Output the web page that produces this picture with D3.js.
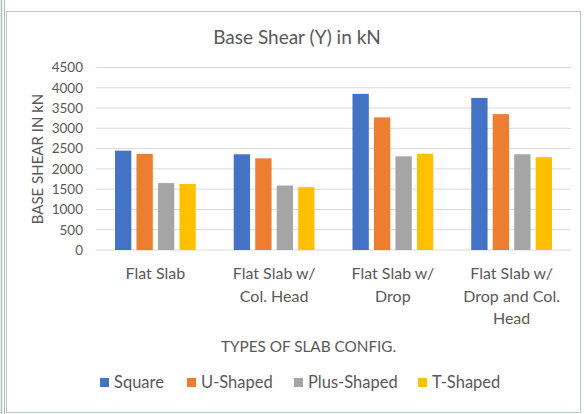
<!DOCTYPE html>
<html><head><meta charset="utf-8">
<script src="https://cdn.jsdelivr.net/npm/d3@7"></script>
<style>body{margin:0;background:#fff}svg{display:block}text{font-family:Lato,"Open Sans",sans-serif;fill:#595959}</style>
</head><body>
<svg id="c" width="584" height="414"></svg>
<script>
const categories = [["Flat Slab"],["Flat Slab w/","Col. Head"],["Flat Slab w/","Drop"],["Flat Slab w/","Drop and Col.","Head"]];
const seriesNames = ["Square","U-Shaped","Plus-Shaped","T-Shaped"];
const square = [2450, 2360, 3850, 3750];
const uShaped = [2370, 2260, 3270, 3350];
const plusShaped = [1650, 1590, 2310, 2360];
const tShaped = [1630, 1550, 2375, 2290];
const yTicks = [0,500,1000,1500,2000,2500,3000,3500,4000,4500];
const colors = ["#4472C4","#ED7D31","#A5A5A5","#FFC000"];
const series = [square,uShaped,plusShaped,tShaped];

const svg = d3.select("#c");
// frame
svg.append("line").attr("x1",1.5).attr("x2",1.5).attr("y1",0).attr("y2",414).attr("stroke","#a9bcbc").attr("stroke-width",1.5);
svg.append("line").attr("x1",4.5).attr("x2",4.5).attr("y1",0).attr("y2",414).attr("stroke","#a9bcbc").attr("stroke-width",1);
svg.append("rect").attr("x",6.5).attr("y",11.5).attr("width",574).attr("height",401).attr("fill","#fff").attr("stroke","#b7c7c7");

const x0 = d3.scaleBand().domain(d3.range(categories.length)).range([96,571]).padding(0);
const x1 = d3.scaleBand().domain(d3.range(seriesNames.length)).range([0,x0.bandwidth()*0.68]).paddingInner(0.24).paddingOuter(0);
const y = d3.scaleLinear().domain([0,4500]).range([250,67.5]);

const g = svg.append("g");
g.selectAll("line.grid").data(yTicks).join("line").attr("class","grid")
  .attr("x1",96).attr("x2",571).attr("y1",d=>y(d)).attr("y2",d=>y(d))
  .attr("stroke","#d9d9d9").attr("stroke-width",1);

const yAxis = d3.axisLeft(y).tickValues(yTicks).tickSize(0).tickPadding(13).tickFormat(d3.format("d"));
const ya = svg.append("g").attr("transform","translate(96,0)").call(yAxis);
ya.select(".domain").remove();
ya.selectAll("text").style("font-size","13.5px").style("fill","#595959").style("font-family","Lato");

const groupOffset = (x0.bandwidth() - x1.range()[1]) / 2;
series.forEach((vals, si) => {
  svg.append("g").selectAll("rect").data(vals).join("rect")
    .attr("x",(d,i)=>x0(i)+groupOffset+x1(si))
    .attr("width",x1.bandwidth())
    .attr("y",d=>y(d)).attr("height",d=>y(0)-y(d))
    .attr("fill",colors[si]);
});

// category labels
const cl = svg.append("g");
categories.forEach((lines,i)=>{
  const t = cl.append("text").attr("text-anchor","middle").style("font-size","16px");
  lines.forEach((ln,j)=>t.append("tspan").attr("x",x0(i)+x0.bandwidth()/2).attr("y",279+j*22.5).text(ln));
});

svg.append("text").attr("x",297).attr("y",44).attr("text-anchor","middle").style("font-size","19px").text("Base Shear (Y) in kN");
svg.append("text").attr("transform","translate(43,159) rotate(-90)").attr("text-anchor","middle").style("font-size","15px").text("BASE SHEAR IN kN");
svg.append("text").attr("x",308.5).attr("y",352).attr("text-anchor","middle").style("font-size","15.3px").text("TYPES OF SLAB CONFIG.");

// legend
const legX = [100,187,294,418];
const leg = svg.append("g");
seriesNames.forEach((n,i)=>{
  leg.append("rect").attr("x",legX[i]).attr("y",378).attr("width",9).attr("height",9).attr("fill",colors[i]);
  leg.append("text").attr("x",legX[i]+14).attr("y",388).style("font-size","16.5px").text(n);
});
</script>
</body></html>
